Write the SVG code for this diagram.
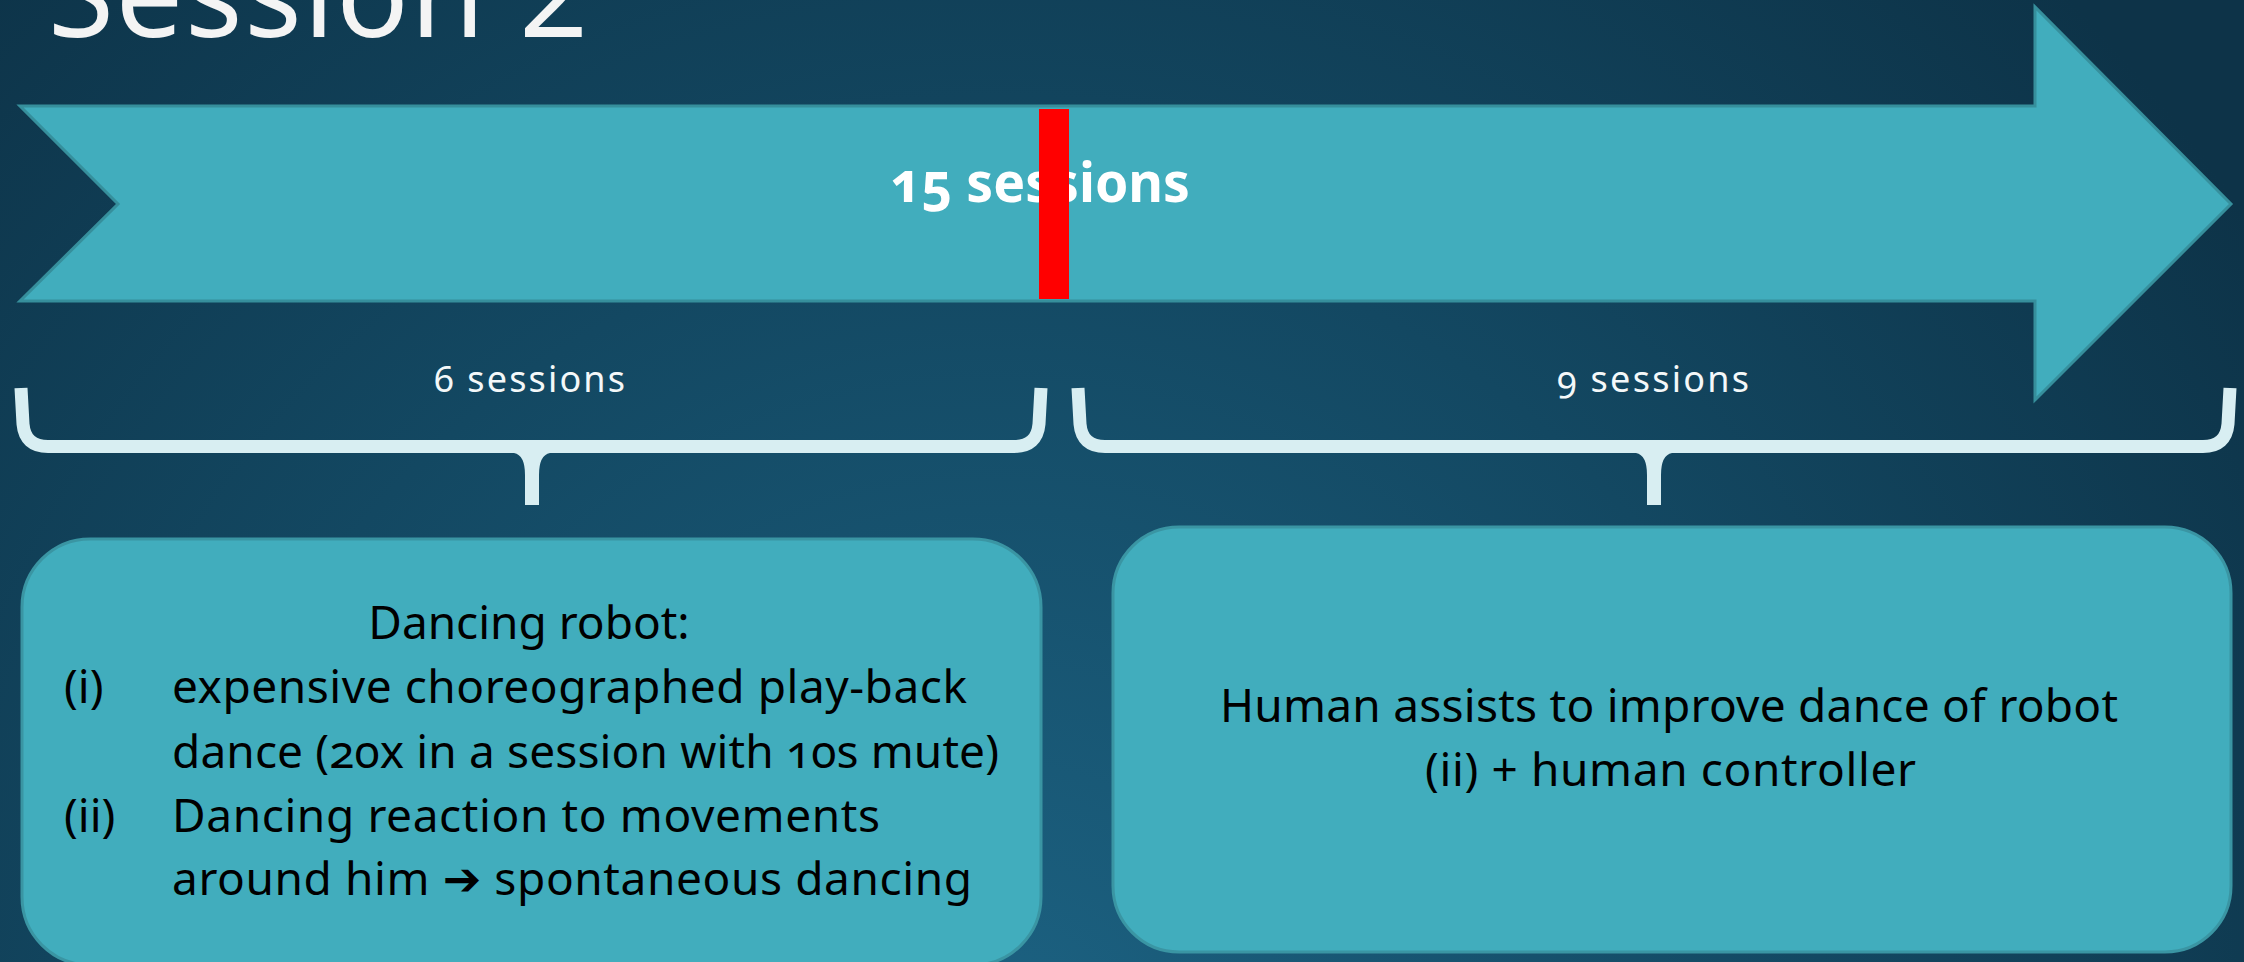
<svg xmlns="http://www.w3.org/2000/svg" width="2244" height="962" viewBox="0 0 2244 962">
<defs>
<radialGradient id="bg" cx="1000" cy="1050" r="1500" gradientUnits="userSpaceOnUse">
<stop offset="0" stop-color="#1c6282"/>
<stop offset="0.55" stop-color="#134862"/>
<stop offset="1" stop-color="#0d3348"/>
</radialGradient>
<style>
.shape{fill:#41adbd;stroke:#368f9c;stroke-width:3}
.box{fill:#41adbd;stroke:#3a95a3;stroke-width:3}
.brace{fill:none;stroke:#d8eef2;stroke-width:13;stroke-linejoin:round}
.tip{fill:#d8eef2}
.body{font-family:"Noto Sans","DejaVu Sans",sans-serif;font-size:46px;fill:#000;font-variant-numeric:oldstyle-nums}
.lbl{font-family:"Noto Sans","DejaVu Sans",sans-serif;font-size:36px;fill:#f4f8f9;font-variant-numeric:oldstyle-nums}
</style>
</defs>
<rect x="0" y="0" width="2244" height="962" fill="url(#bg)"/>
<text x="48" y="37" font-family="'Noto Sans','DejaVu Sans',sans-serif" font-size="120" fill="#f4f4f4" textLength="540">Session 2</text>

<g id="timeline">
<polygon class="shape" points="20,106 2035,106 2035,7 2231,204 2035,400 2035,301 20,301 118,204"/>
<text x="890" y="202" font-family="'Noto Sans','DejaVu Sans',sans-serif" font-size="56" font-weight="bold" fill="#ffffff" textLength="300" lengthAdjust="spacingAndGlyphs" style="font-variant-numeric:oldstyle-nums">15 sessions</text>
<rect x="1039" y="109" width="30" height="190" fill="#ff0000"/>
</g>

<g id="connectors">
<path class="brace" d="M21,388 L23,424 Q25,446.5 48,446.5 L1014,446.5 Q1037,446.5 1039,424 L1041,388"/>
<path class="tip" d="M514,453 Q525,455 525,475 L525,505 L539,505 L539,475 Q539,455 550,453 Z M522,440 Q532,442 532,446 Q532,442 542,440 Z"/>
<path class="brace" d="M1078,388 L1080,424 Q1082,446.5 1105,446.5 L2203,446.5 Q2226,446.5 2228,424 L2230,388"/>
<path class="tip" d="M1636,453 Q1647,455 1647,475 L1647,505 L1661,505 L1661,475 Q1661,455 1672,453 Z M1644,440 Q1654,442 1654,446 Q1654,442 1664,440 Z"/>
<text class="lbl" x="434" y="392" textLength="191">6 sessions</text>
<text class="lbl" x="1557" y="392" textLength="192">9 sessions</text>
</g>

<g id="left-box">
<rect class="box" x="22" y="539" width="1019" height="426" rx="68" ry="68"/>
<text class="body" x="529" y="639" text-anchor="middle">Dancing robot:</text>
<text class="body" x="64" y="703">(i)</text>
<text class="body" x="172" y="703" textLength="795">expensive choreographed play-back</text>
<text class="body" x="172" y="768" textLength="827">dance (20x in a session with 10s mute)</text>
<text class="body" x="64" y="832">(ii)</text>
<text class="body" x="172" y="832" textLength="708">Dancing reaction to movements</text>
<text class="body" x="172" y="895" textLength="800">around him ➔ spontaneous dancing</text>
</g>

<g id="right-box">
<rect class="box" x="1113" y="527" width="1118" height="425" rx="66" ry="66"/>
<text class="body" x="1220" y="722" textLength="898">Human assists to improve dance of robot</text>
<text class="body" x="1425" y="786" textLength="491">(ii) + human controller</text>
</g>
</svg>
